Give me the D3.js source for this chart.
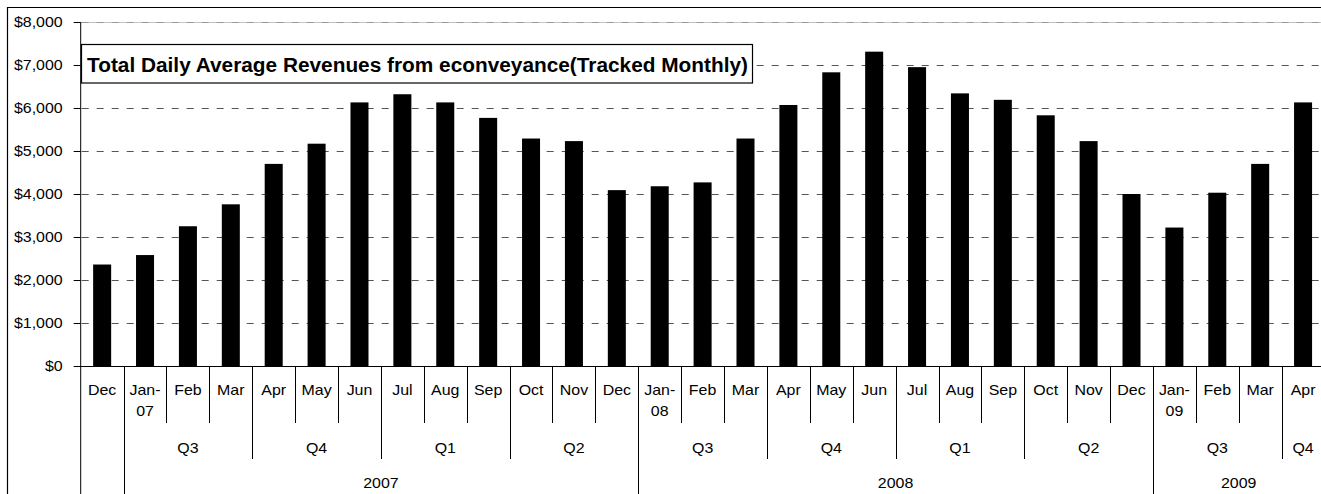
<!DOCTYPE html>
<html><head><meta charset="utf-8">
<script src="https://cdn.jsdelivr.net/npm/d3@7"></script>
<style>
html,body{margin:0;padding:0;background:#fff;}
svg{display:block;}
text{font-family:"Liberation Sans",Arial,sans-serif;fill:#000;}
</style></head>
<body>
<svg id="chart" width="1321" height="494"></svg>
<script>
// ---- data ----
const monthLabels = ["Dec","Jan-\n07","Feb","Mar","Apr","May","Jun","Jul","Aug","Sep","Oct","Nov","Dec",
  "Jan-\n08","Feb","Mar","Apr","May","Jun","Jul","Aug","Sep","Oct","Nov","Dec",
  "Jan-\n09","Feb","Mar","Apr"];
const revenues = [2360,2580,3250,3760,4700,5170,6130,6320,6130,5770,5290,5230,4090,
  4180,4270,5290,6070,6830,7310,6950,6340,6190,5830,5230,4000,
  3220,4030,4700,6130];
const quarterLabels = ["","Q3","Q4","Q1","Q2","Q3","Q4","Q1","Q2","Q3","Q4"];
const quarterSpans  = [1,3,3,3,3,3,3,3,3,3,1];
const yearLabels = ["","2007","2008","2009"];
const yearSpans  = [1,12,12,4];
const yTicks = [0,1000,2000,3000,4000,5000,6000,7000,8000];
const chartTitle = "Total Daily Average Revenues from econveyance(Tracked Monthly)";

// ---- layout ----
const svg = d3.select("#chart");
const plotLeft = 80.7, colStep = 42.89, plotTop = 22, plotBottom = 366;
const plotRight = plotLeft + colStep * revenues.length;
const SX = 1.14; // horizontal text stretch

const x = d3.scaleBand().domain(d3.range(revenues.length)).range([plotLeft, plotRight])
  .paddingInner(0.58).paddingOuter(0.29);
const y = d3.scaleLinear().domain([0, 8000]).range([plotBottom, plotTop]);

// outer border
svg.append("path").attr("d", `M7.5,494 V7.5 H1321`).attr("fill","none").attr("stroke","#000").attr("stroke-width",1.2);

// gridlines
const grid = svg.append("g");
yTicks.filter(v => v > 0).forEach(v => {
  const yy = Math.round(y(v)) + 0.5;
  if (v === 8000) {
    grid.append("line").attr("x1", plotLeft).attr("x2", plotRight).attr("y1", yy).attr("y2", yy)
      .attr("stroke", "#c4c4c4").attr("stroke-width", 1);
  }
  grid.append("line").attr("x1", plotLeft + 1).attr("x2", plotRight).attr("y1", yy).attr("y2", yy)
    .attr("stroke", v === 8000 ? "#999" : "#555").attr("stroke-width", 1)
    .attr("stroke-dasharray", "7,8");
});

// bars
svg.append("g").selectAll("rect").data(revenues).join("rect")
  .attr("x", (d, i) => x(i)).attr("width", x.bandwidth())
  .attr("y", d => y(d)).attr("height", d => y(0) - y(d))
  .attr("fill", "#000");

// y axis
const yAxis = svg.append("g").attr("transform", `translate(${plotLeft},0)`)
  .call(d3.axisLeft(y).tickValues(yTicks).tickSize(7).tickPadding(11)
    .tickFormat(d => "$" + d3.format(",")(d)));
yAxis.select(".domain").remove();
yAxis.selectAll(".tick line").attr("stroke", "#000");
yAxis.selectAll(".tick text")
  .attr("font-family", '"Liberation Sans", Arial, sans-serif')
  .attr("font-size", 14).attr("x", -18 / SX)
  .attr("transform", `scale(${SX},1)`);
// axis lines
svg.append("line").attr("x1", plotLeft).attr("x2", plotLeft).attr("y1", plotTop).attr("y2", 494).attr("stroke", "#000");
svg.append("line").attr("x1", plotLeft - 6).attr("x2", plotRight).attr("y1", plotBottom + 0.5).attr("y2", plotBottom + 0.5).attr("stroke", "#000");

// title box
const tb = svg.append("g");
tb.append("rect").attr("x", 81.5).attr("y", 44.5).attr("width", 671).attr("height", 38.5)
  .attr("fill", "#fff").attr("stroke", "#000").attr("stroke-width", 1.2);
tb.append("text").attr("x", 87).attr("y", 72).attr("font-size", 19.5).attr("font-weight", "bold")
  .attr("textLength", 661).attr("lengthAdjust", "spacingAndGlyphs").text(chartTitle);

// category axis: month labels & dividers
const bnd = i => plotLeft + i * x.step();
const cat = svg.append("g");
function label(g, cx, by, txt) {
  g.append("text").attr("transform", `translate(${cx},${by}) scale(${SX},1)`)
    .attr("text-anchor", "middle").attr("font-size", 14).text(txt);
}
monthLabels.forEach((m, i) => {
  const cx = bnd(i) + x.step() / 2;
  m.split("\n").forEach((ln, k) => label(cat, cx, 395 + k * 21, ln));
});
// dividers: month level to 423, quarter level to 459, year level to 494
let qb = new Set(), yb = new Set();
let acc = 0; quarterSpans.forEach(s => { qb.add(acc); acc += s; }); qb.add(acc);
acc = 0; yearSpans.forEach(s => { yb.add(acc); acc += s; }); yb.add(acc);
for (let i = 1; i <= revenues.length; i++) {
  const xx = Math.round(bnd(i)) + 0.5;
  const y2 = yb.has(i) ? 494 : (qb.has(i) ? 459 : 423);
  cat.append("line").attr("x1", xx).attr("x2", xx).attr("y1", plotBottom).attr("y2", y2)
    .attr("stroke", "#000").attr("stroke-width", 1);
}
// quarter labels
acc = 0;
quarterLabels.forEach((q, k) => {
  const cx = (bnd(acc) + bnd(acc + quarterSpans[k])) / 2;
  if (q) label(cat, cx, 453, q);
  acc += quarterSpans[k];
});
// year labels
acc = 0;
yearLabels.forEach((yl, k) => {
  const cx = (bnd(acc) + bnd(acc + yearSpans[k])) / 2;
  if (yl) label(cat, cx, 488, yl);
  acc += yearSpans[k];
});
</script>
</body></html>
